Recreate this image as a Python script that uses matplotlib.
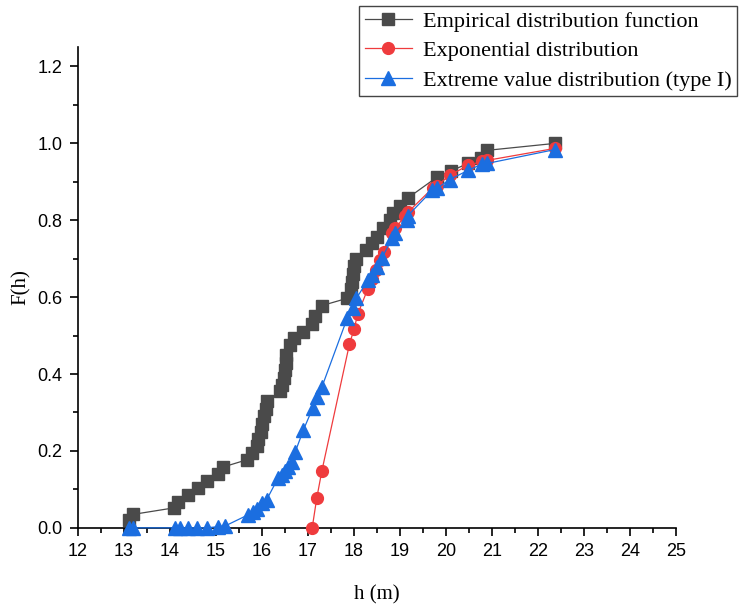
import matplotlib
matplotlib.use("Agg")
import matplotlib.pyplot as plt
from matplotlib.ticker import MultipleLocator

# empirical distribution function
h_emp = [13.10, 13.20, 14.09, 14.17, 14.39, 14.60, 14.80, 15.05, 15.15, 15.67,
         15.78, 15.90, 15.92, 15.97, 16.00, 16.05, 16.08, 16.10, 16.40, 16.43,
         16.47, 16.50, 16.52, 16.53, 16.60, 16.70, 16.90, 17.08, 17.15, 17.30,
         17.85, 17.93, 17.95, 17.97, 18.00, 18.05, 18.26, 18.40, 18.50, 18.63,
         18.78, 18.85, 19.00, 19.17, 19.80, 20.10, 20.48, 20.75, 20.90, 22.37]
F_emp = [0.020, 0.035, 0.052, 0.068, 0.086, 0.104, 0.122, 0.140, 0.158, 0.177,
         0.195, 0.213, 0.232, 0.250, 0.270, 0.290, 0.310, 0.330, 0.355, 0.372,
         0.390, 0.410, 0.430, 0.450, 0.475, 0.495, 0.510, 0.530, 0.550, 0.578,
         0.597, 0.620, 0.640, 0.660, 0.680, 0.700, 0.722, 0.740, 0.756, 0.779,
         0.800, 0.820, 0.836, 0.858, 0.912, 0.928, 0.948, 0.962, 0.982, 1.000]

# exponential distribution
h_exp = [17.09, 17.19, 17.30, 17.90, 18.00, 18.08, 18.30, 18.40, 18.48, 18.57,
         18.66, 18.83, 18.90, 19.10, 19.17, 19.72, 19.80, 20.08, 20.48, 20.78,
         20.90, 22.37]
F_exp = [0.000, 0.078, 0.148, 0.478, 0.517, 0.556, 0.622, 0.648, 0.670, 0.696,
         0.718, 0.766, 0.780, 0.810, 0.821, 0.885, 0.890, 0.917, 0.943, 0.953,
         0.956, 0.987]

# extreme value distribution (type I)
h_ev = [13.10, 13.20, 14.11, 14.22, 14.39, 14.59, 14.80, 15.04, 15.20, 15.70,
        15.80, 15.90, 16.00, 16.10, 16.35, 16.43, 16.50, 16.57, 16.65, 16.72,
        16.90, 17.10, 17.20, 17.30, 17.85, 17.97, 18.05, 18.30, 18.38, 18.50,
        18.60, 18.83, 18.88, 19.15, 19.17, 19.70, 19.80, 20.08, 20.48, 20.78,
        20.90, 22.37]
F_ev = [0.000, 0.000, 0.000, 0.000, 0.000, 0.000, 0.000, 0.003, 0.005, 0.034,
        0.042, 0.050, 0.064, 0.073, 0.130, 0.138, 0.148, 0.158, 0.172, 0.197,
        0.255, 0.311, 0.340, 0.366, 0.545, 0.571, 0.597, 0.644, 0.657, 0.678,
        0.701, 0.753, 0.766, 0.800, 0.812, 0.878, 0.883, 0.906, 0.930, 0.946,
        0.948, 0.984]

fig = plt.figure(figsize=(7.43, 6.06), dpi=100)
ax = fig.add_axes([0.105, 0.129, 0.805, 0.793])

ax.plot(h_emp, F_emp, '-s', color='#4a4a4a', lw=0.9, ms=8.5, clip_on=False,
        zorder=3, label='Empirical distribution function')
ax.plot(h_exp, F_exp, '-o', color='#ef3b3d', lw=0.9, ms=8.5, clip_on=False,
        zorder=4, label='Exponential distribution')
ax.plot(h_ev, F_ev, '-^', color='#1b6ee0', lw=0.9, ms=10, clip_on=False,
        zorder=5, label='Extreme value distribution (type I)')

ax.set_xlim(12, 25)
ax.set_ylim(0, 1.25)
ax.xaxis.set_major_locator(MultipleLocator(1))
ax.xaxis.set_minor_locator(MultipleLocator(0.5))
ax.yaxis.set_minor_locator(MultipleLocator(0.1))
ax.set_yticks([0, 0.2, 0.4, 0.6, 0.8, 1.0, 1.2])
ax.set_yticklabels(['0.0', '0.2', '0.4', '0.6', '0.8', '1.0', '1.2'])
ax.tick_params(which='major', direction='out', length=6, width=1.2,
               labelsize=13, pad=5, labelfontfamily='Liberation Sans')
ax.tick_params(which='minor', direction='out', length=3.5, width=1.2)

ax.spines['top'].set_visible(False)
ax.spines['right'].set_visible(False)
ax.spines['left'].set_linewidth(1.2)
ax.spines['bottom'].set_linewidth(1.2)

ax.set_xlabel('h (m)', fontsize=15, family='Liberation Serif', labelpad=18)
ax.set_ylabel('F(h)', fontsize=15, family='Liberation Serif', labelpad=5)

leg = fig.legend(loc='upper right', bbox_to_anchor=(0.998, 0.998),
                 prop={'family': 'Liberation Serif', 'size': 16},
                 fancybox=False, edgecolor='#444444', handlelength=2.1,
                 borderpad=0.25, labelspacing=0.4, handletextpad=0.5,
                 borderaxespad=0.2, framealpha=1)
leg.get_frame().set_linewidth(1.0)

fig.savefig('out.png', dpi=100)
